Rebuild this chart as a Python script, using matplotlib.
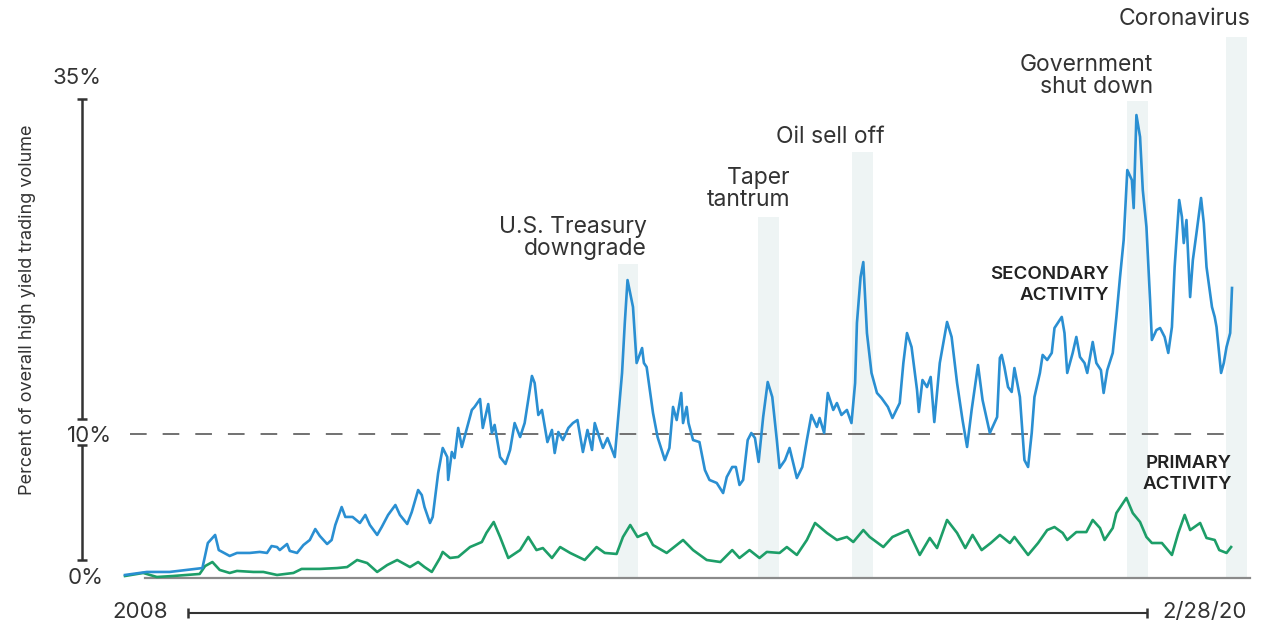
import matplotlib
matplotlib.use("Agg")
import matplotlib.pyplot as plt

plt.rcParams['lines.scale_dashes'] = False
FONT = ['Inter', 'DejaVu Sans']

# ---------------- data (decimal year, percent of overall HY trading volume) ----------------
sec_x = [2008.00, 2008.24, 2008.49, 2008.68, 2008.85, 2008.91, 2008.99, 2009.03, 2009.15, 2009.23,
         2009.37, 2009.48, 2009.56, 2009.61, 2009.67, 2009.70, 2009.78, 2009.81, 2009.89, 2009.96,
         2010.03, 2010.09, 2010.14, 2010.22, 2010.27, 2010.31, 2010.38, 2010.42, 2010.50, 2010.58,
         2010.64, 2010.69, 2010.77, 2010.82, 2010.89, 2010.97, 2011.02, 2011.10, 2011.15, 2011.22,
         2011.26, 2011.29, 2011.35, 2011.38, 2011.44, 2011.49, 2011.54, 2011.55, 2011.59, 2011.62,
         2011.66, 2011.70, 2011.76, 2011.81, 2011.84, 2011.90, 2011.93, 2011.99, 2012.03, 2012.06,
         2012.12, 2012.18, 2012.23, 2012.28, 2012.34, 2012.39, 2012.47, 2012.50, 2012.54, 2012.58,
         2012.64, 2012.69, 2012.72, 2012.76, 2012.81, 2012.87, 2012.92, 2012.97, 2013.03, 2013.08,
         2013.13, 2013.16, 2013.22, 2013.25, 2013.30, 2013.38, 2013.46, 2013.49, 2013.52, 2013.58,
         2013.62, 2013.68, 2013.70, 2013.73, 2013.80, 2013.85, 2013.93, 2013.98, 2014.02, 2014.06,
         2014.11, 2014.13, 2014.17, 2014.19, 2014.24, 2014.31, 2014.37, 2014.42, 2014.50, 2014.57,
         2014.61, 2014.67, 2014.71, 2014.75, 2014.79, 2014.84, 2014.88, 2014.92, 2014.96, 2015.01,
         2015.06, 2015.11, 2015.16, 2015.19, 2015.25, 2015.30, 2015.38, 2015.44, 2015.49, 2015.54,
         2015.60, 2015.63, 2015.68, 2015.72, 2015.78, 2015.82, 2015.87, 2015.93, 2015.98, 2016.02,
         2016.04, 2016.08, 2016.11, 2016.15, 2016.20, 2016.26, 2016.31, 2016.38, 2016.43, 2016.51,
         2016.55, 2016.59, 2016.64, 2016.70, 2016.72, 2016.76, 2016.81, 2016.85, 2016.89, 2016.95,
         2017.03, 2017.08, 2017.14, 2017.20, 2017.25, 2017.30, 2017.37, 2017.42, 2017.50, 2017.58,
         2017.61, 2017.63, 2017.66, 2017.70, 2017.74, 2017.77, 2017.83, 2017.88, 2017.92, 2017.96,
         2017.99, 2018.05, 2018.08, 2018.13, 2018.18, 2018.21, 2018.29, 2018.32, 2018.35, 2018.41,
         2018.45, 2018.49, 2018.54, 2018.57, 2018.63, 2018.67, 2018.72, 2018.75, 2018.79, 2018.85,
         2018.89, 2018.93, 2018.97, 2019.01, 2019.06, 2019.08, 2019.11, 2019.15, 2019.18, 2019.22,
         2019.26, 2019.28, 2019.33, 2019.37, 2019.42, 2019.46, 2019.50, 2019.53, 2019.58, 2019.61,
         2019.63, 2019.66, 2019.70, 2019.73, 2019.77, 2019.82, 2019.85, 2019.88, 2019.94, 2019.97,
         2019.99, 2020.04, 2020.07, 2020.10, 2020.14, 2020.16]
sec_y = [0.21, 0.42, 0.42, 0.56, 0.69, 2.43, 2.99, 1.94, 1.53, 1.74,
         1.74, 1.81, 1.74, 2.22, 2.15, 1.94, 2.36, 1.88, 1.74, 2.29,
         2.64, 3.40, 2.92, 2.36, 2.64, 3.68, 4.93, 4.24, 4.24, 3.82,
         4.38, 3.68, 2.99, 3.54, 4.38, 5.07, 4.38, 3.75, 4.58, 6.11,
         5.76, 4.93, 3.82, 4.24, 7.29, 9.03, 8.40, 6.81, 8.75, 8.33,
         10.42, 9.10, 10.49, 11.67, 11.88, 12.43, 10.42, 12.08, 10.07, 10.63,
         8.40, 7.92, 8.89, 10.76, 9.79, 10.76, 14.03, 13.54, 11.32, 11.67,
         9.44, 10.28, 8.68, 10.14, 9.58, 10.42, 10.76, 10.97, 8.75, 10.28,
         8.89, 10.76, 9.58, 9.03, 9.72, 8.40, 14.24, 17.71, 20.69, 18.82,
         14.93, 15.97, 14.93, 14.65, 11.46, 9.79, 8.19, 9.03, 11.88, 10.97,
         12.85, 10.76, 11.88, 10.76, 9.58, 9.44, 7.50, 6.81, 6.60, 5.90,
         7.01, 7.71, 7.71, 6.46, 6.81, 9.58, 10.07, 9.72, 8.06, 11.18,
         13.61, 12.57, 9.58, 7.64, 8.19, 9.03, 6.94, 7.71, 9.58, 11.32,
         10.49, 11.11, 10.07, 12.85, 11.67, 12.15, 11.32, 11.67, 10.76, 13.54,
         17.71, 20.90, 21.94, 17.01, 14.24, 12.85, 12.50, 11.88, 11.11, 12.15,
         14.93, 17.01, 16.04, 13.06, 11.53, 13.75, 13.26, 13.96, 10.83, 14.93,
         17.78, 16.74, 13.54, 10.97, 9.10, 11.67, 14.79, 12.36, 10.07, 11.18,
         15.28, 15.49, 14.65, 13.26, 12.92, 14.58, 12.57, 8.19, 7.71, 10.07,
         12.57, 14.24, 15.49, 15.14, 15.63, 17.36, 18.13, 17.01, 14.24, 15.63,
         16.74, 15.35, 14.93, 14.24, 16.39, 14.93, 14.44, 12.85, 14.44, 15.63,
         18.13, 20.90, 23.47, 28.33, 27.64, 25.69, 32.15, 30.63, 26.94, 24.38,
         19.31, 16.53, 17.22, 17.36, 16.74, 15.63, 17.43, 21.60, 26.25, 25.07,
         23.26, 24.86, 19.51, 22.08, 23.96, 26.39, 24.65, 21.60, 18.82, 18.13,
         17.43, 14.24, 14.93, 16.04, 17.01, 20.14]

pri_x = [2008.00, 2008.20, 2008.35, 2008.53, 2008.82, 2008.88, 2008.96, 2009.04, 2009.15, 2009.23,
         2009.41, 2009.52, 2009.67, 2009.85, 2009.94, 2010.14, 2010.33, 2010.44, 2010.55, 2010.66,
         2010.77, 2010.88, 2010.99, 2011.05, 2011.13, 2011.22, 2011.29, 2011.37, 2011.46, 2011.49,
         2011.57, 2011.66, 2011.79, 2011.92, 2011.97, 2012.05, 2012.12, 2012.21, 2012.34, 2012.43,
         2012.52, 2012.59, 2012.69, 2012.78, 2012.89, 2013.05, 2013.18, 2013.27, 2013.40, 2013.47,
         2013.55, 2013.63, 2013.73, 2013.80, 2013.95, 2014.13, 2014.24, 2014.39, 2014.54, 2014.67,
         2014.75, 2014.86, 2014.97, 2015.05, 2015.19, 2015.27, 2015.38, 2015.49, 2015.58, 2015.71,
         2015.82, 2015.93, 2016.00, 2016.11, 2016.18, 2016.33, 2016.43, 2016.60, 2016.73, 2016.84,
         2016.92, 2017.03, 2017.14, 2017.23, 2017.31, 2017.41, 2017.51, 2017.61, 2017.72, 2017.77,
         2017.92, 2018.03, 2018.13, 2018.21, 2018.30, 2018.35, 2018.45, 2018.56, 2018.63, 2018.71,
         2018.76, 2018.85, 2018.89, 2019.00, 2019.07, 2019.15, 2019.22, 2019.28, 2019.39, 2019.50,
         2019.57, 2019.64, 2019.70, 2019.81, 2019.88, 2019.97, 2020.02, 2020.10, 2020.15]
pri_y = [0.14, 0.35, 0.07, 0.14, 0.28, 0.83, 1.11, 0.56, 0.35, 0.49,
         0.42, 0.42, 0.21, 0.35, 0.63, 0.63, 0.69, 0.76, 1.25, 1.04,
         0.42, 0.90, 1.25, 1.04, 0.76, 1.11, 0.76, 0.42, 1.39, 1.81,
         1.39, 1.46, 2.15, 2.50, 3.13, 3.89, 2.85, 1.39, 1.94, 2.85,
         1.94, 2.08, 1.39, 2.15, 1.74, 1.25, 2.15, 1.74, 1.67, 2.85,
         3.68, 2.85, 3.13, 2.29, 1.74, 2.64, 1.94, 1.25, 1.11, 1.94,
         1.39, 1.94, 1.39, 1.81, 1.74, 2.15, 1.60, 2.64, 3.82, 3.13,
         2.64, 2.85, 2.50, 3.33, 2.85, 2.15, 2.85, 3.33, 1.60, 2.78,
         2.08, 4.03, 3.13, 2.08, 2.99, 1.94, 2.43, 2.99, 2.43, 2.85,
         1.60, 2.43, 3.33, 3.54, 3.13, 2.64, 3.19, 3.19, 4.03, 3.47,
         2.64, 3.47, 4.51, 5.56, 4.51, 3.89, 2.85, 2.43, 2.43, 1.60,
         3.13, 4.38, 3.33, 3.82, 2.78, 2.64, 1.94, 1.74, 2.15]

events = ["U.S. Treasury\ndowngrade", "Taper\ntantrum", "Oil sell off",
          "Government\nshut down", "Coronavirus"]
band_start = [2013.41, 2014.95, 2015.99, 2019.01, 2020.09]
band_end = [2013.64, 2015.18, 2016.22, 2019.24, 2020.32]
band_top = [21.8, 25.1, 29.6, 33.1, 37.6]

y_ticks = [0, 10, 35]
y_tick_labels = ["0%", "10%", "35%"]
reference_level = 10
start_label, end_label = "2008", "2/28/20"

BLUE = "#2a8fd2"
GREEN = "#1d9e68"
SHADE = "#eef4f4"
TXT = "#333333"

W, H = 1267, 623
fig = plt.figure(figsize=(W / 100, H / 100), dpi=100)

# data axes: mapped so that 0% sits at baseline and 2008..2/28/20 spans the lines
ax = fig.add_axes([0, 0, 1, 1])
px_per_yr = 1107 / 12.16
px_per_pct = 14.4
x0 = 2008 - 125 / px_per_yr
x1 = 2008 + (W - 125) / px_per_yr
ax.set_xlim(x0, x1)
ax.set_ylim(-(H - 578) / px_per_pct, 578 / px_per_pct)
ax.axis('off')

for s, e, t in zip(band_start, band_end, band_top):
    ax.bar(s, t, width=e - s, align='edge', bottom=0, color=SHADE, zorder=1, linewidth=0)

ax.plot([2008 + 5 / px_per_yr, 2020.16], [reference_level] * 2, color="#666666", lw=1.3,
        dashes=(12, 11.5), zorder=2)
ax.plot([2008 + 20 / px_per_yr, 2008 + 1125 / px_per_yr], [0, 0], color="#8a8a8a", lw=1.6, zorder=2)

ax.plot(pri_x, pri_y, color=GREEN, lw=1.9, zorder=4, solid_joinstyle='round')
ax.plot(sec_x, sec_y, color=BLUE, lw=1.9, zorder=5, solid_joinstyle='round')

# overlay in pixel coordinates for annotations
ov = fig.add_axes([0, 0, 1, 1])
ov.set_xlim(0, W)
ov.set_ylim(H, 0)
ov.axis('off')
ov.patch.set_alpha(0)

def ypx(v):
    return 578 - v * px_per_pct

# y bracket axis
bx = 82
for (a, b) in [(ypx(35) + 25, ypx(10) - 15), (ypx(10) + 11, ypx(0) - 18)]:
    ov.plot([bx, bx], [a, b], color="#333333", lw=1.8, solid_capstyle='butt')
    for yy in (a, b):
        ov.plot([bx - 5, bx + 5], [yy, yy], color="#333333", lw=1.8, solid_capstyle='butt')

tick_x = [86, 89, 77]
tick_dy = [0, 2, 4]
for v, lab, tx, dy in zip(y_ticks, y_tick_labels, tick_x, tick_dy):
    ov.text(tx, ypx(v) + dy, lab, ha='center', va='center', fontsize=16, color=TXT, family=FONT)

ov.text(28, 310, "Percent of overall high yield trading volume", rotation=90, ha='center',
        va='center', fontsize=13, color=TXT, family=FONT)

# event labels
label_right = [647, 790, 885, 1153, 1250]
label_y = [238, 189, 137, 76, 19]
for lab, rx, ly in zip(events, label_right, label_y):
    ov.text(rx, ly, lab, ha='right', va='center', fontsize=16.5, color=TXT, family=FONT,
            linespacing=0.98)

ov.text(1109, 285, "SECONDARY\nACTIVITY", ha='right', va='center', fontsize=13.5,
        fontweight='semibold', color="#222222", family=FONT, linespacing=1.3)
ov.text(1232, 474, "PRIMARY\nACTIVITY", ha='right', va='center', fontsize=13.5,
        fontweight='semibold', color="#222222", family=FONT, linespacing=1.3)

# bottom timeline
ov.plot([188, 1147], [613, 613], color="#333333", lw=1.5, solid_capstyle='butt')
for xx in (188, 1147):
    ov.plot([xx, xx], [608, 618], color="#333333", lw=1.8, solid_capstyle='butt')
ov.text(140, 612, start_label, ha='center', va='center', fontsize=16, color=TXT, family=FONT)
ov.text(1205, 612, end_label, ha='center', va='center', fontsize=16, color=TXT, family=FONT)

fig.savefig("out.png", dpi=100)
